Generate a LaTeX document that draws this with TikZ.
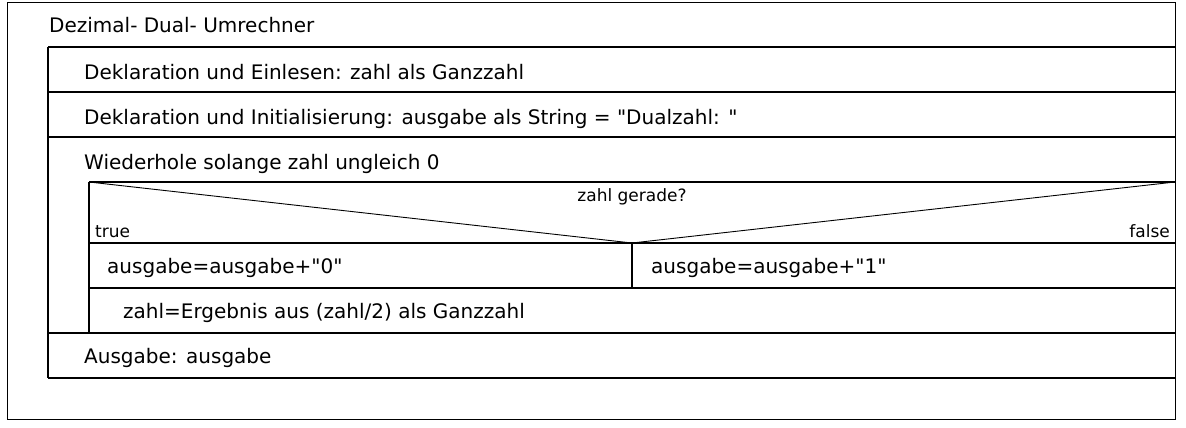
\documentclass[tikz,border=0pt]{standalone}
\usepackage{fontspec}
\setmainfont{DejaVu Sans}[Ligatures=TeXOff]
\newcommand\dq{\symbol{34}}
\begin{document}
\begin{tikzpicture}[x=1pt, y=-1pt, line join=miter,
  txt/.style={anchor=base west, inner sep=0pt, font=\fontsize{20}{24}\selectfont},
  lbl/.style={inner sep=0pt, font=\fontsize{17}{20}\selectfont},
  rule/.style={line width=1.2pt},
  thinrule/.style={line width=0.9pt}]
\useasboundingbox (0,0) rectangle (1186,428);

% corners of the chart
\coordinate (o1) at (7,2);
\coordinate (o2) at (1175,419);
\coordinate (a1) at (48,47);
\coordinate (a2) at (1175,47);
\coordinate (b1) at (48,92);
\coordinate (b2) at (1175,92);
\coordinate (c1) at (48,137);
\coordinate (c2) at (1175,137);
\coordinate (d1) at (89,182);
\coordinate (d2) at (1175,182);
\coordinate (e1) at (89,243);
\coordinate (e2) at (1175,243);
\coordinate (tip) at (632,243);
\coordinate (f0) at (632,288);
\coordinate (f1) at (89,288);
\coordinate (f2) at (1175,288);
\coordinate (g0) at (89,333);
\coordinate (g1) at (48,333);
\coordinate (g2) at (1175,333);
\coordinate (h1) at (48,378);
\coordinate (h2) at (1175,378);

\node (title) at (49,33) [txt] {Dezimal- Dual- Umrechner};
\node (read) at (84,79) [txt] {Deklaration und Einlesen: zahl als Ganzzahl};
\node (init) at (84,124) [txt] {Deklaration und Initialisierung: ausgabe als String = \dq Dualzahl: \dq};
\node (loop) at (84,169) [txt] {Wiederhole solange zahl ungleich 0};
\node (cond) at (632,201) [lbl, anchor=base] {zahl gerade?};
\node (yes) at (95,237) [lbl, anchor=base west] {true};
\node (no) at (1170,237) [lbl, anchor=base east] {false};
\node (even) at (107,273) [txt] {ausgabe=ausgabe+\dq0\dq};
\node (odd) at (651,273) [txt] {ausgabe=ausgabe+\dq1\dq};
\node (halve) at (123,318) [txt] {zahl=Ergebnis aus (zahl/2) als Ganzzahl};
\node (out) at (84,363) [txt] {Ausgabe: ausgabe};

\draw[thinrule] (o1) rectangle (o2);
\draw[rule] (a1) to (a2);
\draw[rule] (b1) to (b2);
\draw[rule] (c1) to (c2);
\draw[rule] (d1) to (d2);
\draw[rule] (e1) to (e2);
\draw[rule] (f1) to (f2);
\draw[rule] (g1) to (g2);
\draw[rule] (h1) to (h2);
\draw[rule] (a1) to (h1);
\draw[rule] (d1) to (g0);
\draw[rule] (tip) to (f0);
\draw[thinrule] (d1) to (tip);
\draw[thinrule] (d2) to (tip);
\end{tikzpicture}
\end{document}
